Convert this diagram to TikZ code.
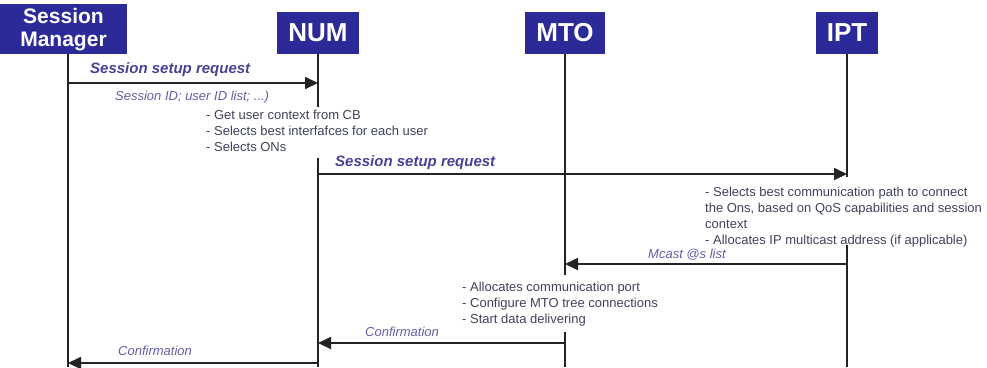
\documentclass[tikz,border=0pt]{standalone}
\usepackage{fontspec}
\setmainfont{Liberation Sans}
\usepackage{xcolor}
\usetikzlibrary{arrows.meta}
\definecolor{boxblue}{RGB}{44,42,152}
\definecolor{msgblue}{RGB}{70,66,150}
\definecolor{notegray}{RGB}{62,66,92}
\definecolor{lifegray}{RGB}{35,35,35}

\begin{document}
\begin{tikzpicture}[x=1pt,y=-1pt,
	actor/.style={fill=boxblue,text=white,font=\fontsize{26}{28}\selectfont\bfseries,minimum height=42pt,inner xsep=11pt,anchor=south},
	life/.style={lifegray,line width=1.8pt},
	msg/.style={lifegray,line width=1.8pt,-{Triangle[length=13pt,width=12pt]}},
	msglabel/.style={msgblue,font=\fontsize{15}{17}\selectfont\bfseries\itshape,anchor=west,inner sep=0pt},
	msgnote/.style={msgblue!85,font=\fontsize{13}{15}\selectfont\itshape,anchor=west,inner sep=0pt},
	notetext/.style={notegray,font=\fontsize{13}{16}\selectfont,align=left,anchor=north west,inner sep=0pt}]
		\useasboundingbox (0,0) rectangle (987,367);
		\node[actor,font=\fontsize{21}{23}\selectfont\bfseries,minimum width=127pt,minimum height=47pt,align=center] (sm) at (63.5,54) {Session\\Manager};
		\node[actor] (num) at (318,54) {NUM};
		\node[actor] (mto) at (565,54) {MTO};
		\node[actor] (ipt) at (847,54) {IPT};
		\coordinate (smtop) at (68,54);
		\coordinate (smend) at (68,367);
		\coordinate (numa) at (318,107);
		\coordinate (numb) at (318,158);
		\coordinate (numend) at (318,367);
		\coordinate (mtoa) at (565,275);
		\coordinate (mtob) at (565,332);
		\coordinate (mtoend) at (565,367);
		\coordinate (ipta) at (847,177);
		\coordinate (iptb) at (847,245);
		\coordinate (iptend) at (847,367);
		\draw[life] (smtop)--(smend);
		\draw[life] (num.south)--(numa);
		\draw[life] (numb)--(numend);
		\draw[life] (mto.south)--(mtoa);
		\draw[life] (mtob)--(mtoend);
		\draw[life] (ipt.south)--(ipta);
		\draw[life] (iptb)--(iptend);
		\coordinate (m1a) at (68,83);
		\coordinate (m1b) at (318,83);
		\coordinate (m2a) at (318,174);
		\coordinate (m2b) at (847,174);
		\coordinate (m3a) at (847,264);
		\coordinate (m3b) at (565,264);
		\coordinate (m4a) at (565,343);
		\coordinate (m4b) at (318,343);
		\coordinate (m5a) at (318,363);
		\coordinate (m5b) at (68,363);
		\draw[msg] (m1a)--(m1b);
		\draw[msg] (m2a)--(m2b);
		\draw[msg] (m3a)--(m3b);
		\draw[msg] (m4a)--(m4b);
		\draw[msg] (m5a)--(m5b);
		\node[msglabel] (req1) at (90,70) {Session setup request};
		\node[msgnote] (req1par) at (115,97) {Session ID; user ID list; ...)};
		\node[notetext] (numnote) at (206,110) {- Get user context from CB\\- Selects best interfafces for each user\\- Selects ONs};
		\node[msglabel] (req2) at (335,163) {Session setup request};
		\node[notetext] (iptnote) at (705,187) {- Selects best communication path to connect\\the Ons, based on QoS capabilities and session\\context\\- Allocates IP multicast address (if applicable)};
		\node[msgnote] (mcast) at (648,255) {Mcast @s list};
		\node[notetext] (mtonote) at (462,282) {- Allocates communication port\\- Configure MTO tree connections\\- Start data delivering};
		\node[msgnote] (conf1) at (365,332) {Confirmation};
		\node[msgnote] (conf2) at (118,351) {Confirmation};
	\end{tikzpicture}
\end{document}
